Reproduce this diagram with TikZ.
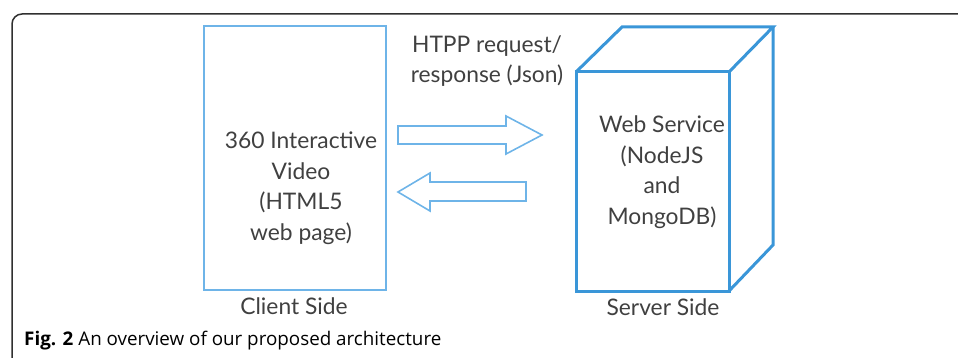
\documentclass[tikz,border=0pt]{standalone}
\usepackage{fontspec}
\setmainfont{Lato}
\newfontfamily\capfont{Open Sans}
\definecolor{lightblue}{HTML}{6EB4E8}
\definecolor{cubeblue}{HTML}{3A96D8}
\definecolor{txtgrey}{HTML}{404040}
\definecolor{framegrey}{HTML}{303030}
\begin{document}
\begin{tikzpicture}[x=1pt,y=-1pt,
  lbl/.style={text=txtgrey,font=\fontsize{22.8}{30.5}\selectfont,align=center,inner sep=0pt},
  clientbox/.style={draw=lightblue,line width=1.6pt,minimum width=182pt,minimum height=264pt,inner sep=0pt},
  arrowshape/.style={draw=lightblue,line width=1.6pt,line join=miter},
  cubeline/.style={draw=cubeblue,line width=3pt,line join=miter}]
\useasboundingbox (0,0) rectangle (958,358);
% outer frame
\draw[framegrey,line width=1.5pt,rounded corners=10pt] (12,360) -- (12,14) -- (962,14);
% client box
\node[clientbox] (client) at (295,158) {};
\node[lbl] (clienttext) at (301,188) {360 Interactive\\Video\\(HTML5\\web page)};
\node[lbl] (clientlbl) at (294,306) {Client Side};
% arrows
\draw[arrowshape] (398,126) -- (506,126) -- (506,116) -- (542,135) -- (506,154) -- (506,144) -- (398,144) -- cycle;
\draw[arrowshape] (526,182) -- (430,182) -- (430,173) -- (398,192) -- (430,211) -- (430,201) -- (526,201) -- cycle;
\node[lbl] (httplbl) at (487,61) {HTPP request/\\response (Json)};
% cube
\coordinate (ftl) at (576,72);
\coordinate (ftr) at (729,72);
\coordinate (fbl) at (576,291);
\coordinate (fbr) at (729,291);
\coordinate (btl) at (622,27);
\coordinate (btr) at (773,27);
\coordinate (bbr) at (773,245);
\draw[cubeline] (ftl) rectangle (fbr);
\draw[cubeline] (ftl) -- (btl) -- (btr) -- (ftr);
\draw[cubeline] (btr) -- (bbr) -- (fbr);
\node[lbl] (servertext) at (662,172) {Web Service\\(NodeJS\\and\\MongoDB)};
\node[lbl] (serverlbl) at (663,307) {Server Side};
% caption
\node[anchor=west,inner sep=0pt,text=black,font=\capfont\fontsize{18.8}{22}\selectfont] (caption) at (24,341) {\textbf{Fig. 2} An overview of our proposed architecture};
\end{tikzpicture}
\end{document}
